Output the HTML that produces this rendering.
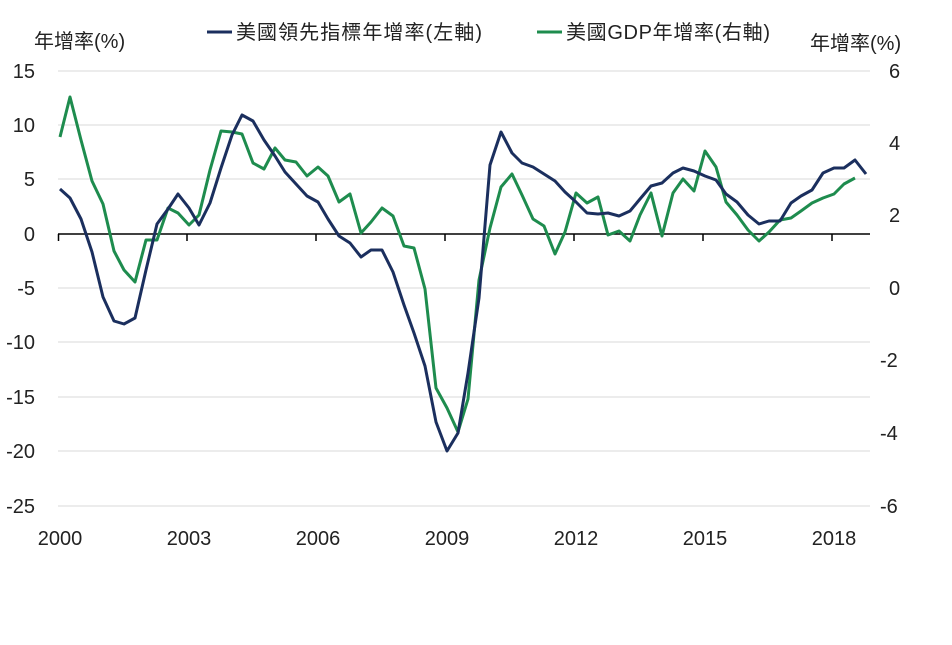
<!DOCTYPE html>
<html><head><meta charset="utf-8"><style>
body{margin:0;background:#fff}
svg text{font-family:"Liberation Sans","Noto Sans CJK TC",sans-serif;fill:#222}
</style></head><body>
<svg width="952" height="640" viewBox="0 0 952 640" xmlns="http://www.w3.org/2000/svg">
<g stroke="#d9d9d9" stroke-width="1">
<line x1="58" x2="870" y1="71" y2="71"/><line x1="58" x2="870" y1="125" y2="125"/>
<line x1="58" x2="870" y1="179" y2="179"/><line x1="58" x2="870" y1="288" y2="288"/>
<line x1="58" x2="870" y1="342" y2="342"/><line x1="58" x2="870" y1="397" y2="397"/>
<line x1="58" x2="870" y1="451" y2="451"/><line x1="58" x2="870" y1="506" y2="506"/>
</g>
<g stroke="#000" stroke-width="1.5">
<line x1="58" x2="870" y1="234" y2="234"/>
<line x1="58.5" x2="58.5" y1="234" y2="241"/><line x1="187" x2="187" y1="234" y2="241"/>
<line x1="316" x2="316" y1="234" y2="241"/><line x1="445" x2="445" y1="234" y2="241"/>
<line x1="574" x2="574" y1="234" y2="241"/><line x1="703" x2="703" y1="234" y2="241"/>
<line x1="832" x2="832" y1="234" y2="241"/>
</g>
<g font-size="20" text-anchor="end">
<text x="35" y="78">15</text><text x="35" y="132">10</text><text x="35" y="186">5</text>
<text x="35" y="241">0</text><text x="35" y="295">-5</text><text x="35" y="349">-10</text>
<text x="35" y="404">-15</text><text x="35" y="458">-20</text><text x="35" y="513">-25</text>
</g>
<g font-size="20" text-anchor="start">
<text x="889" y="78">6</text><text x="889" y="150">4</text><text x="889" y="222">2</text>
<text x="889" y="295">0</text><text x="880" y="367">-2</text><text x="880" y="440">-4</text><text x="880" y="513">-6</text>
</g>
<g font-size="20" text-anchor="middle">
<text x="60" y="545">2000</text><text x="189" y="545">2003</text><text x="318" y="545">2006</text>
<text x="447" y="545">2009</text><text x="576" y="545">2012</text><text x="705" y="545">2015</text><text x="834" y="545">2018</text>
</g>
<text x="34" y="48" font-size="20">年增率(%)</text>
<text x="810" y="50" font-size="20">年增率(%)</text>
<line x1="207" x2="232" y1="32" y2="32" stroke="#1b2f5e" stroke-width="3"/>
<text x="236" y="39" font-size="20" textLength="246">美國領先指標年增率(左軸)</text>
<line x1="537" x2="562" y1="32" y2="32" stroke="#1e8c4e" stroke-width="3"/>
<text x="566" y="39" font-size="20" textLength="204">美國GDP年增率(右軸)</text>
<polyline fill="none" stroke="#1e8c4e" stroke-width="3" stroke-linejoin="round" points="60,137 70,97 81,140 92,181 103,204 114,251 124,270 135,282 146,240 157,240 168,208 178,213 189,225 199,215 210,170 221,131 232,132 242,134 253,163 264,169 275,148 285,160 296,162 307,176 318,167 328,176 339,202 350,194 361,233 371,222 382,208 393,216 404,246 414,248 425,289 436,388 447,408 458,432 468,399 479,280 490,228 501,187 512,174 522,195 533,219 544,226 555,254 565,232 576,193 587,203 598,197 608,235 619,231 630,241 640,215 651,193 662,236 673,193 683,179 694,191 705,151 716,167 726,202 737,215 748,230 759,241 769,232 780,220 791,218 801,211 812,203 823,198 834,194 844,184 855,178"/>
<polyline fill="none" stroke="#1b2f5e" stroke-width="3" stroke-linejoin="round" points="60,189 70,198 81,219 92,252 103,297 114,321 124,324 135,318 146,270 157,224 168,209 178,194 189,208 199,225 210,203 221,168 232,135 242,115 253,121 264,140 275,156 285,172 296,184 307,196 318,202 328,219 339,236 350,243 361,257 371,250 382,250 393,272 404,305 414,333 425,366 436,422 447,451 458,433 468,373 479,298 490,165 501,132 512,153 522,163 533,167 544,174 555,181 565,192 576,202 587,213 598,214 608,213 619,216 630,211 640,199 651,186 662,183 673,173 683,168 694,171 705,176 716,180 726,194 737,202 748,215 759,224 769,221 780,221 791,203 801,196 812,190 823,173 834,168 844,168 855,160 866,174"/>
</svg>
</body></html>
